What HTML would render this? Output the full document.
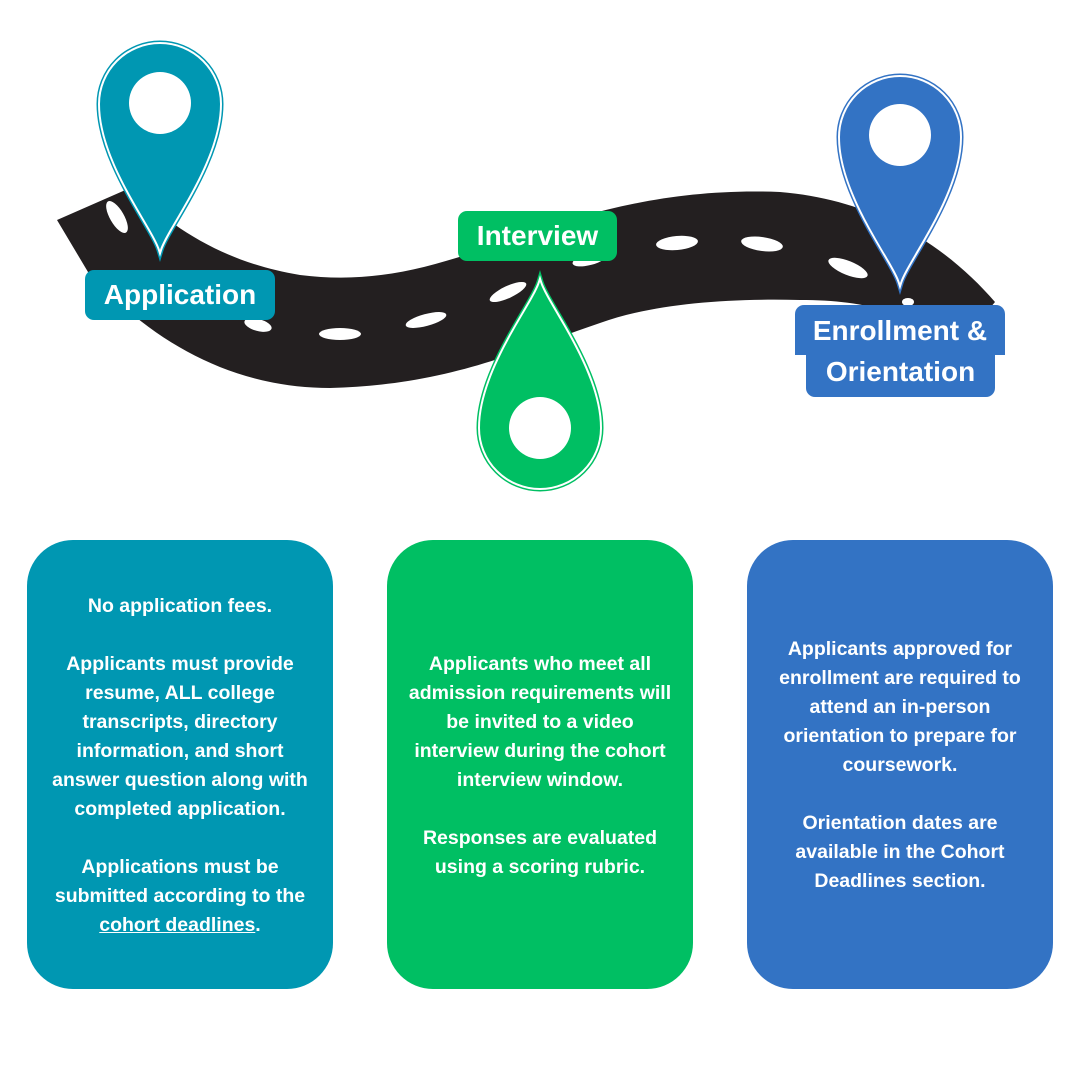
<!DOCTYPE html>
<html><head><meta charset="utf-8"><style>
body{margin:0;width:1080px;height:1080px;background:#fff;position:relative;overflow:hidden;font-family:"Liberation Sans",sans-serif;}
.lab{position:absolute;color:#fff;font-weight:bold;font-size:28px;border-radius:9px;text-align:center;line-height:40px;}
.card{position:absolute;top:540px;width:306px;height:449px;border-radius:46px;color:#fff;font-weight:bold;font-size:19.5px;line-height:29px;text-align:center;display:flex;align-items:center;justify-content:center;box-sizing:border-box;white-space:nowrap;}
</style></head><body>
<svg width="1080" height="1080" style="position:absolute;left:0;top:0">
<path d="M57,220 L130,188 C170,225 220,262 300,275 C380,285 440,265 520,236 C600,208 680,188 780,192 C880,200 950,250 995,302 C980,320 965,335 950,340 C900,310 860,300 800,300 C720,298 650,305 600,323 C520,350 450,385 330,388 C230,388 150,340 88,272 Z" fill="#231f20"/>
<g fill="#fff">
<ellipse cx="117" cy="217" rx="7" ry="18" transform="rotate(-30 117 217)"/>
<ellipse cx="258" cy="325" rx="14" ry="6" transform="rotate(15 258 325)"/>
<ellipse cx="340" cy="334" rx="21" ry="6"/>
<ellipse cx="426" cy="320" rx="21" ry="6" transform="rotate(-15 426 320)"/>
<ellipse cx="508" cy="292" rx="20" ry="6" transform="rotate(-25 508 292)"/>
<ellipse cx="590" cy="259" rx="18" ry="6" transform="rotate(-15 590 259)"/>
<ellipse cx="677" cy="243" rx="21" ry="7" transform="rotate(-5 677 243)"/>
<ellipse cx="762" cy="244" rx="21" ry="7" transform="rotate(8 762 244)"/>
<ellipse cx="848" cy="268" rx="21" ry="7" transform="rotate(22 848 268)"/>
<ellipse cx="908" cy="302" rx="6" ry="4"/>
</g>
<defs><path id="pin" d="M62,208 C55,185 2,120 2,62 A60,60 0 1 1 122,62 C122,120 69,185 62,208 Z"/></defs>
<g transform="translate(98,42)">
<use href="#pin" fill="none" stroke="#0097b2" stroke-width="7"/><use href="#pin" fill="none" stroke="#fff" stroke-width="4"/><use href="#pin" fill="#0097b2"/>
<circle cx="62" cy="61" r="31" fill="#fff"/></g>
<g transform="translate(602,490) rotate(180)">
<use href="#pin" fill="none" stroke="#00bf63" stroke-width="7"/><use href="#pin" fill="none" stroke="#fff" stroke-width="4"/><use href="#pin" fill="#00bf63"/>
<circle cx="62" cy="62" r="31" fill="#fff"/></g>
<g transform="translate(838,75)">
<use href="#pin" fill="none" stroke="#3373c4" stroke-width="7"/><use href="#pin" fill="none" stroke="#fff" stroke-width="4"/><use href="#pin" fill="#3373c4"/>
<circle cx="62" cy="60" r="31" fill="#fff"/></g>
</svg>
<div class="lab" style="left:85px;top:270px;width:190px;height:50px;line-height:50px;background:#0097b2">Application</div>
<div class="lab" style="left:458px;top:211px;width:159px;height:50px;line-height:50px;background:#00bf63">Interview</div>
<div class="lab" style="left:795px;top:305px;width:210px;height:50px;background:#3373c4;border-radius:9px 9px 0 0;line-height:52px">Enrollment &amp;</div>
<div class="lab" style="left:806px;top:350px;width:189px;height:47px;background:#3373c4;border-radius:0 0 9px 9px;line-height:44px">Orientation</div>
<div class="card" style="left:27px;background:#0097b2"><div style="margin-top:2px">No application fees.<br><br>Applicants must provide<br>resume, ALL college<br>transcripts, directory<br>information, and short<br>answer question along with<br>completed application.<br><br>Applications must be<br>submitted according to the<br><u>cohort deadlines</u>.</div></div>
<div class="card" style="left:387px;background:#00bf63"><div style="margin-top:2px">Applicants who meet all<br>admission requirements will<br>be invited to a video<br>interview during the cohort<br>interview window.<br><br>Responses are evaluated<br>using a scoring rubric.</div></div>
<div class="card" style="left:747px;background:#3373c4"><div style="margin-top:2px">Applicants approved for<br>enrollment are required to<br>attend an in-person<br>orientation to prepare for<br>coursework.<br><br>Orientation dates are<br>available in the Cohort<br>Deadlines section.</div></div>
</body></html>
